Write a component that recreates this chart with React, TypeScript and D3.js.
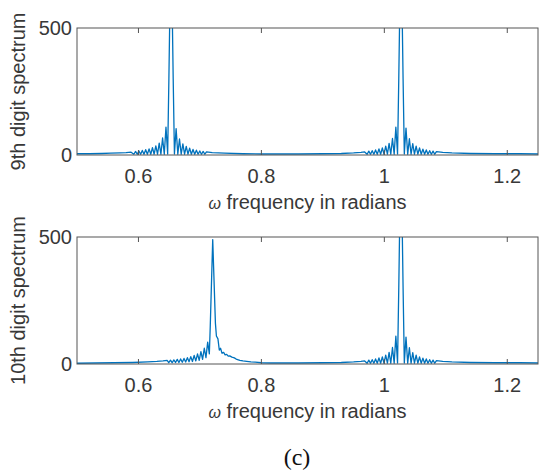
import React from 'react';
import * as d3 from 'd3';

// ---- data ----
const xTicks = [0.6, 0.8, 1.0, 1.2];
const yTicks = [0, 500];
const xDomain = [0.5, 1.25];
const yDomain = [0, 500];

// 9th digit, low tone (~0.653 rad)
const lowTone9Freq = [
  0.500, 0.520, 0.540, 0.555, 0.570, 0.580, 0.588, 0.5925, 0.5953, 0.598,
  0.60075, 0.6035, 0.60625, 0.609, 0.61175, 0.6145, 0.61725, 0.620, 0.62275, 0.6255,
  0.62825, 0.631, 0.63375, 0.6365, 0.63925, 0.642, 0.64475, 0.6475, 0.6495, 0.6508,
  0.653, 0.6552, 0.6565, 0.6585, 0.66125, 0.664, 0.66675, 0.6695, 0.67225, 0.675,
  0.67775, 0.6805, 0.68325, 0.686, 0.68875, 0.6915, 0.69425, 0.697, 0.69975, 0.7025,
  0.70525, 0.708, 0.7107, 0.72, 0.74, 0.77, 0.80, 0.83,
];
const lowTone9Mag = [
  5, 5, 6, 7, 8, 9, 11, 3, 14, 3,
  16, 3, 18, 3, 21, 3, 24, 3, 29, 3,
  36, 3, 47, 3, 67, 3, 110, 4, 300, 520,
  640, 520, 300, 4, 104, 3, 63, 3, 44, 3,
  34, 3, 27, 3, 22, 3, 19, 3, 16, 3,
  14, 3, 12, 9, 7, 5, 4, 4,
];

// 10th digit, low tone (~0.721 rad)
const lowTone10Freq = [
  0.500, 0.530, 0.560, 0.590, 0.615, 0.630, 0.640,
  0.6466, 0.6493, 0.6521, 0.6548, 0.6576, 0.6603, 0.6631, 0.6658, 0.6686, 0.6713,
  0.6741, 0.6768, 0.6796, 0.6823, 0.6851, 0.6878, 0.6906, 0.6933, 0.6961, 0.6988,
  0.7016, 0.7043, 0.7071, 0.7098, 0.7126, 0.7153, 0.7168, 0.7208, 0.7252, 0.7268,
  0.7293, 0.7315, 0.7335, 0.7360, 0.7385, 0.741, 0.7435, 0.746, 0.7485, 0.752,
  0.756, 0.760, 0.765, 0.770, 0.776, 0.783, 0.790, 0.80, 0.815, 0.83,
];
const lowTone10Mag = [
  3, 4, 5, 6, 8, 10, 12,
  14, 5, 15, 5, 16, 6, 18, 6, 20, 7,
  22, 8, 25, 9, 29, 10, 34, 12, 40, 14,
  49, 18, 62, 25, 86, 40, 150, 490, 160, 110,
  99, 55, 62, 42, 46, 36, 38, 31, 32, 27,
  24, 18, 14, 12, 10, 8, 7, 5, 4, 4,
];

// high tone (~1.027 rad), same in both digits
const highToneFreq = [
  0.86, 0.90, 0.93, 0.95, 0.962, 0.968, 0.972, 0.97475, 0.9775, 0.98025,
  0.983, 0.98575, 0.9885, 0.99125, 0.994, 0.99675, 0.9995, 1.00225, 1.005, 1.00775,
  1.0105, 1.01325, 1.016, 1.01875, 1.0215, 1.0235, 1.0248, 1.027, 1.0292, 1.0305,
  1.0325, 1.03525, 1.038, 1.04075, 1.0435, 1.04625, 1.049, 1.05175, 1.0545, 1.05725,
  1.060, 1.06275, 1.0655, 1.06825, 1.071, 1.07375, 1.0765, 1.07925, 1.082, 1.0848,
  1.095, 1.11, 1.14, 1.18, 1.22, 1.25,
];
const highToneMag = [
  4, 5, 6, 8, 10, 12, 3, 15, 3, 17,
  3, 20, 3, 24, 3, 28, 3, 35, 3, 46,
  3, 65, 3, 110, 4, 300, 520, 640, 520, 300,
  4, 106, 3, 64, 3, 45, 3, 35, 3, 28,
  3, 23, 3, 20, 3, 17, 3, 15, 3, 13,
  10, 8, 6, 5, 5, 4,
];

const panels = [
  {
    label: '9th digit spectrum',
    freq: lowTone9Freq.concat(highToneFreq),
    mag: lowTone9Mag.concat(highToneMag),
  },
  {
    label: '10th digit spectrum',
    freq: lowTone10Freq.concat(highToneFreq),
    mag: lowTone10Mag.concat(highToneMag),
  },
];

// ---- layout ----
const W = 540;
const H = 472;
const left = 77;
const right = 538;
const panelTops = [28, 237];
const panelH = 127;
const FONT = "'Liberation Sans', Arial, Helvetica, sans-serif";
const TEXT = '#383838';
const AXIS = '#555555';
const LINE = '#0072BD';

function Panel({ idx }: { idx: number }) {
  const p = panels[idx];
  const top = panelTops[idx];
  const bottom = top + panelH;
  const x = d3.scaleLinear().domain(xDomain).range([left, right]);
  const y = d3.scaleLinear().domain(yDomain).range([bottom, top]);
  const data = p.freq.map((f, i) => [f, p.mag[i]] as [number, number]);
  const line = d3
    .line<[number, number]>()
    .x((d) => x(d[0]))
    .y((d) => y(d[1]));
  const clipId = `clip${idx}`;
  const fmt = (v: number) => d3.format('~g')(v);
  return (
    <g>
      <defs>
        <clipPath id={clipId}>
          <rect x={left} y={top} width={right - left} height={panelH} />
        </clipPath>
      </defs>
      <path
        d={line(data) || ''}
        fill="none"
        stroke={LINE}
        strokeWidth={1.3}
        strokeLinejoin="round"
        clipPath={`url(#${clipId})`}
      />
      <rect
        x={left}
        y={top}
        width={right - left}
        height={panelH}
        fill="none"
        stroke={AXIS}
        strokeWidth={1}
      />
      {xTicks.map((t) => (
        <g key={t}>
          <line x1={x(t)} x2={x(t)} y1={bottom} y2={bottom - 5} stroke={AXIS} />
          <line x1={x(t)} x2={x(t)} y1={top} y2={top + 5} stroke={AXIS} />
          <text
            x={x(t)}
            y={bottom + 28}
            textAnchor="middle"
            fontFamily={FONT}
            fontSize={20}
            fill={TEXT}
          >
            {fmt(t)}
          </text>
        </g>
      ))}
      {yTicks.map((t) => (
        <text
          key={t}
          x={left - 5}
          y={y(t) + 7}
          textAnchor="end"
          fontFamily={FONT}
          fontSize={20}
          fill={TEXT}
        >
          {fmt(t)}
        </text>
      ))}
      <text
        x={(left + right) / 2}
        y={bottom + 54}
        textAnchor="middle"
        fontFamily={FONT}
        fontSize={20}
        fill={TEXT}
      >
        <tspan fontStyle="italic" fontSize={16}>ω</tspan> frequency in radians
      </text>
      <text
        transform={`translate(25,${(top + bottom) / 2}) rotate(-90)`}
        textAnchor="middle"
        fontFamily={FONT}
        fontSize={20}
        fill={TEXT}
      >
        {p.label}
      </text>
    </g>
  );
}

export default function App() {
  return (
    <svg
      width={W}
      height={H}
      style={{ position: 'absolute', left: 0, top: 0, background: '#fff' }}
    >
      <rect x={0} y={0} width={W} height={H} fill="#fff" />
      <Panel idx={0} />
      <Panel idx={1} />
      <text
        x={297}
        y={465}
        textAnchor="middle"
        fontFamily="'Liberation Serif', 'Times New Roman', serif"
        fontSize={24}
        fill="#111"
      >
        (c)
      </text>
    </svg>
  );
}
